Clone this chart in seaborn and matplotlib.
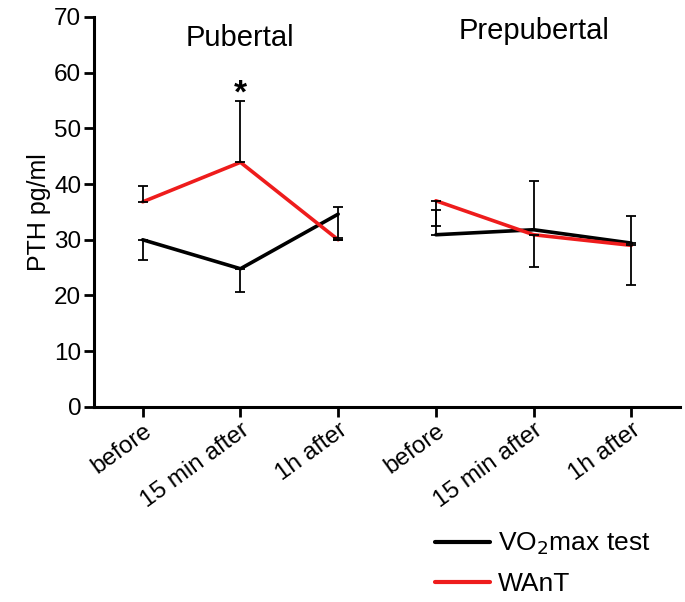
import pandas as pd
import matplotlib
matplotlib.use("Agg")
import matplotlib.pyplot as plt
import seaborn as sns

# valores (PTH pg/ml)
categories = ["before", "15 min after", "1h after"]
groups = ["Pubertal", "Prepubertal"]
vo2_means = [30.0, 24.8, 34.6, 30.9, 31.8, 29.4]
want_means = [36.8, 43.9, 30.0, 37.0, 30.9, 29.0]
# barras de erro (assimétricas, como desenhadas)
vo2_err_low = [3.7, 4.1, 4.2, 0.0, 0.0, 0.0]
vo2_err_high = [0.0, 0.0, 1.2, 4.4, 8.7, 4.8]
want_err_low = [0.0, 0.0, 0.0, 4.5, 5.8, 7.2]
want_err_high = [2.9, 11.0, 0.0, 0.0, 0.0, 0.0]
protocols = ["VO$_2$max test", "WAnT"]

sns.set_theme(style="ticks")
plt.rcParams['font.family'] = ['Liberation Sans', 'DejaVu Sans']
plt.rcParams['text.color'] = 'black'
plt.rcParams['axes.labelcolor'] = 'black'
plt.rcParams['xtick.color'] = 'black'
plt.rcParams['ytick.color'] = 'black'

tick_labels = categories * len(groups)
rows = []
for i in range(len(tick_labels)):
    g = groups[i // len(categories)]
    rows.append({"pos": i, "grupo": g, "Protocolo": protocols[0], "PTH": vo2_means[i]})
    rows.append({"pos": i, "grupo": g, "Protocolo": protocols[1], "PTH": want_means[i]})
df = pd.DataFrame(rows)

cores = {protocols[0]: "black", protocols[1]: "#ee1c1c"}

fig = plt.figure(figsize=(6.85, 6.02), dpi=100)
ax = fig.add_axes([0.137, 0.324, 0.856, 0.648])

for k, g in enumerate(groups):
    sub = df[df["grupo"] == g]
    sns.lineplot(data=sub, x="pos", y="PTH", hue="Protocolo", palette=cores,
                 linewidth=2.6, ax=ax, legend=(k == 0))

pos = list(range(len(tick_labels)))
ax.errorbar(pos, vo2_means, yerr=[vo2_err_low, vo2_err_high], fmt="none",
            ecolor="black", elinewidth=1.3, capsize=3.5, capthick=1.3)
ax.errorbar(pos, want_means, yerr=[want_err_low, want_err_high], fmt="none",
            ecolor="black", elinewidth=1.3, capsize=3.5, capthick=1.3)

ax.text(1, 56.2, "*", ha="center", va="center", fontsize=24, fontweight="bold")
ax.text(1, 66.2, "Pubertal", ha="center", va="center", fontsize=21)
ax.text(4, 67.4, "Prepubertal", ha="center", va="center", fontsize=21)

ax.set_xlim(-0.5, 5.5)
ax.set_ylim(0, 70)
ax.set_yticks(range(0, 71, 10))
ax.set_xticks(pos)
ax.set_xticklabels(tick_labels, rotation=36, ha="right", rotation_mode="anchor")
ax.set_xlabel("")
ax.set_ylabel("PTH pg/ml", fontsize=18, labelpad=2)
ax.tick_params(axis="both", labelsize=17.5, width=2, length=7, color="black", pad=2)
sns.despine(ax=ax)
for s in ["left", "bottom"]:
    ax.spines[s].set_linewidth(2.2)
    ax.spines[s].set_color("black")

handles, labels = ax.get_legend_handles_labels()
ax.legend(handles, labels, loc="upper left", bbox_to_anchor=(0.635, 0.118),
          bbox_transform=fig.transFigure, frameon=False, fontsize=19,
          handlelength=2.1, handletextpad=0.3, borderpad=0, borderaxespad=0,
          labelspacing=0.55)
for ln in ax.get_legend().get_lines():
    ln.set_linewidth(3)

plt.savefig("out.png", dpi=100)
plt.close()
